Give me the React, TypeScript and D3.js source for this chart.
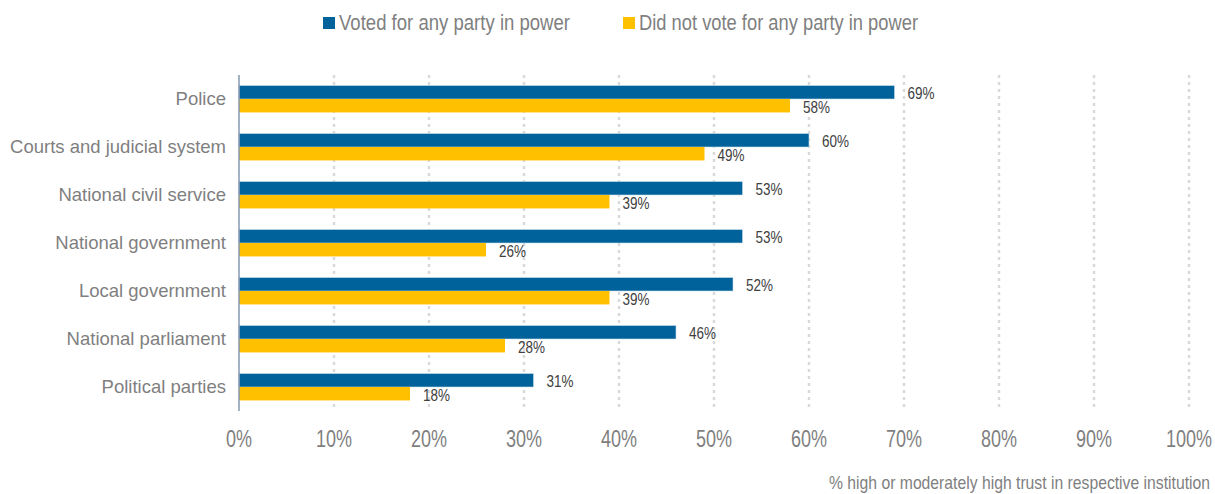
import React from "react";
import * as d3 from "d3";

const categories = [
  "Police",
  "Courts and judicial system",
  "National civil service",
  "National government",
  "Local government",
  "National parliament",
  "Political parties",
];
const votedForPower = [69, 60, 53, 53, 52, 46, 31];
const didNotVote = [58, 49, 39, 26, 39, 28, 18];
const seriesNames = ["Voted for any party in power", "Did not vote for any party in power"];
const xTicks = [0, 10, 20, 30, 40, 50, 60, 70, 80, 90, 100];
const axisTitle = "% high or moderately high trust in respective institution";

const W = 1215;
const H = 494;
const FONT = "'Liberation Sans Narrow', 'Arial Narrow', 'Liberation Sans', Arial, sans-serif";
const BLUE = "#00629b";
const YELLOW = "#ffc000";

// condensed text widths (reference uses a narrow face)
const pctWidth = (s: string, digit: number, pct: number) => (s.length - 1) * digit + pct;

export default function App() {
  const x = d3.scaleLinear().domain([0, 100]).range([239, 1189]);
  const y = d3.scaleBand<string>().domain(categories).range([75, 411]).paddingInner(0.44).paddingOuter(0.22);
  const bh = y.bandwidth() / 2;

  return (
    <svg width={W} height={H} style={{ position: "absolute", left: 0, top: 0 }} fontFamily={FONT}>
      {xTicks.filter((t) => t > 0).map((t) => (
        <line key={t} x1={x(t)} x2={x(t)} y1={75} y2={410} stroke="#d9d9d9" strokeWidth={2.5} strokeDasharray="3 4" />
      ))}
      {categories.map((c, i) => {
        const y0 = y(c)!;
        const a = `${votedForPower[i]}%`;
        const b = `${didNotVote[i]}%`;
        return (
          <g key={c}>
            <rect x={x(0)} y={y0} width={x(votedForPower[i]) - x(0)} height={bh} fill={BLUE} stroke="#c9dcea" strokeWidth={0.6} />
            <rect x={x(0)} y={y0 + bh} width={x(didNotVote[i]) - x(0)} height={bh} fill={YELLOW} />
            <text x={x(votedForPower[i]) + 13} y={y0 + bh / 2 + 6.5} fontSize={16} fill="#404040"
              textLength={pctWidth(a, 7.5, 12)} lengthAdjust="spacingAndGlyphs">
              {a}
            </text>
            <text x={x(didNotVote[i]) + 13} y={y0 + bh + bh / 2 + 7} fontSize={16} fill="#404040"
              textLength={pctWidth(b, 7.5, 12)} lengthAdjust="spacingAndGlyphs">
              {b}
            </text>
            <text x={226} y={y0 + bh + 6} textAnchor="end" fontSize={18.5} fill="#7f7f7f">
              {c}
            </text>
          </g>
        );
      })}
      <line x1={x(0)} x2={x(0)} y1={75} y2={411} stroke="#8497b0" strokeWidth={1.5} />
      {xTicks.map((t) => {
        const s = `${t}%`;
        return (
          <text key={t} x={x(t)} y={447} textAnchor="middle" fontSize={23} fill="#7f7f7f"
            textLength={pctWidth(s, 10, 16)} lengthAdjust="spacingAndGlyphs">
            {s}
          </text>
        );
      })}
      <text x={1210} y={488.5} textAnchor="end" fontSize={19} fill="#7f7f7f" textLength={381} lengthAdjust="spacingAndGlyphs">
        {axisTitle}
      </text>
      <rect x={323} y={17} width={12} height={12} fill={BLUE} />
      <text x={339} y={30} fontSize={22} fill="#7f7f7f" textLength={231} lengthAdjust="spacingAndGlyphs">{seriesNames[0]}</text>
      <rect x={623} y={17} width={12} height={12} fill={YELLOW} />
      <text x={639} y={30} fontSize={22} fill="#7f7f7f" textLength={279} lengthAdjust="spacingAndGlyphs">{seriesNames[1]}</text>
    </svg>
  );
}
